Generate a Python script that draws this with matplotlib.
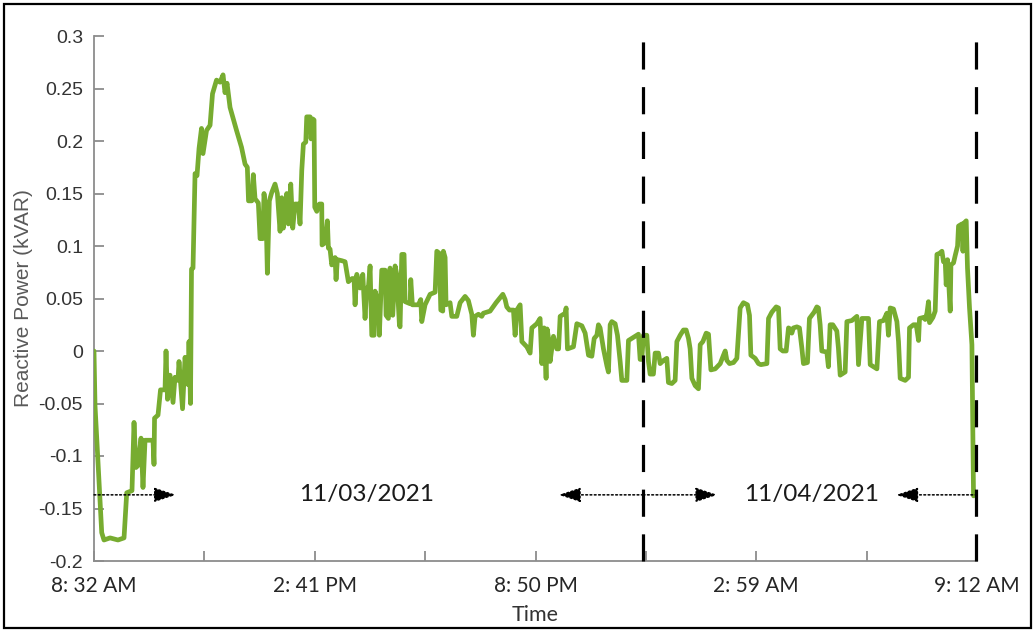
import numpy as np
import matplotlib
matplotlib.use("Agg")
import matplotlib.pyplot as plt
from matplotlib.patches import Rectangle

# Reactive power samples: minutes elapsed since 8:32 AM on 11/03/2021, value in kVAR
minutes = [
    0, 1.7, 12.9, 16.7, 26.8, 40.1, 50.2, 54.7, 63.5, 66.9, 70.2, 73.6, 78.6, 81.9,
    85.3, 98.6, 100.3, 101.2, 107, 111.2, 118.7, 120.4, 122.9, 127.1, 132.1, 135.4,
    140.4, 142.1, 148, 152.2, 157.2, 158.8, 161.3, 163, 165.5, 168.9, 172.2, 175.6,
    179.7, 182.2, 188.1, 194, 198.1, 204.8, 210.7, 215.7, 219, 222.4, 227.4, 238.3,
    246.6, 252.5, 256.3, 258.3, 263.7, 266.3, 269.2, 274.7, 277.6, 282, 284.2, 287.6,
    289.8, 293.1, 297.1, 302.6, 306.5, 311, 313.8, 316.5, 322.2, 324.9, 328.9, 332.2,
    336.1, 341.6, 344.4, 347.3, 350, 354, 355.6, 361.2, 362.8, 365.7, 367.8, 369,
    372.4, 376.7, 380.7, 381.2, 386.2, 390.1, 391.8, 394.6, 397.4, 403, 404.6, 406.8,
    414.2, 419.7, 425.2, 431.4, 434.7, 436.4, 439.3, 444.8, 449.3, 453.1, 456, 458.6,
    461.5, 464.3, 468.2, 469.8, 475.4, 477, 481, 486.6, 488.2, 492.1, 494.9, 499.4,
    503.3, 506.1, 510.5, 511.6, 514.5, 518.3, 520, 528.4, 529.5, 532.2, 542.2, 546.2,
    547.9, 553.4, 561.8, 570.2, 573, 577.3, 579.7, 583, 584, 586.9, 588.5, 595.2,
    598.1, 606.4, 612, 620.3, 625.8, 631.5, 634.2, 637, 642.6, 648.2, 650.9, 662.1,
    672.1, 683.4, 687.2, 690, 694.4, 701.1, 703.9, 706.8, 712.3, 715.2, 723.5, 729,
    731.9, 740.2, 745.7, 748.6, 752.4, 755.7, 757.4, 761.3, 762.4, 768, 773.7, 776.6,
    779.2, 787.5, 789.2, 791.4, 801.4, 807.1, 815.5, 821, 826.6, 832.2, 836.1, 840.6,
    843.2, 846, 851.6, 857.3, 859.9, 862.8, 865.6, 871.1, 875, 879.5, 882.3, 890.7,
    893.4, 899, 904.6, 910.1, 912.9, 915.7, 918.4, 924.1, 926.8, 929.6, 935.1, 938,
    943.5, 946.4, 951.9, 957.5, 960.2, 965.9, 971.4, 974.3, 979.8, 985.3, 989.8,
    993.7, 996.5, 999.4, 1004.9, 1010.4, 1013.3, 1017.8, 1023.3, 1027.2, 1031.2,
    1038.4, 1046.8, 1052.2, 1055.1, 1057.9, 1062.3, 1069, 1074.6, 1080.1, 1085.6,
    1092.3, 1095.7, 1098, 1105.2, 1110.7, 1114.7, 1124.8, 1127.5, 1133.1, 1140.3,
    1144.2, 1147, 1151.5, 1157, 1160.9, 1163.7, 1166.5, 1169.2, 1174.9, 1179.2,
    1183.2, 1185.9, 1192.6, 1195.9, 1203.8, 1208.3, 1210.9, 1213.8, 1216.6, 1225,
    1227.6, 1230.5, 1235, 1241.7, 1244.3, 1247.3, 1255.6, 1258.5, 1266.8, 1275.2,
    1277.9, 1283.6, 1294.6, 1297.5, 1308.7, 1313, 1319.7, 1325.4, 1328, 1330.9,
    1336.4, 1342.1, 1344.8, 1347.6, 1356, 1361.5, 1363.2, 1369.9, 1374.4, 1378.3,
    1379.9, 1386.6, 1389.4, 1392.3, 1394.9, 1396.6, 1402.3, 1406.1, 1409, 1413.3,
    1417.4, 1420, 1422.9, 1424.5, 1426.7, 1431.2, 1432.4, 1436.8, 1439.6, 1443.5,
    1445.1, 1450.8, 1452.5, 1454.6, 1458, 1460.1, 1463.5, 1467.5, 1470.2,
]
kvar = [
    0.000, -0.052, -0.173, -0.180, -0.178, -0.180, -0.178, -0.135, -0.133, -0.068,
    -0.111, -0.109, -0.083, -0.130, -0.085, -0.085, -0.108, -0.064, -0.061, -0.037,
    -0.037, 0.000, -0.046, -0.023, -0.049, -0.025, -0.028, -0.010, -0.055, -0.006,
    -0.032, 0.009, -0.050, 0.078, 0.079, 0.169, 0.167, 0.193, 0.212, 0.188, 0.210,
    0.215, 0.245, 0.258, 0.256, 0.263, 0.246, 0.255, 0.232, 0.210, 0.194, 0.178,
    0.175, 0.143, 0.143, 0.168, 0.145, 0.141, 0.107, 0.107, 0.150, 0.130, 0.074,
    0.143, 0.151, 0.159, 0.150, 0.114, 0.146, 0.117, 0.150, 0.121, 0.159, 0.117,
    0.140, 0.140, 0.121, 0.172, 0.197, 0.199, 0.223, 0.223, 0.202, 0.221, 0.220,
    0.137, 0.133, 0.140, 0.140, 0.101, 0.103, 0.124, 0.098, 0.097, 0.082, 0.089,
    0.068, 0.087, 0.086, 0.085, 0.066, 0.069, 0.069, 0.044, 0.073, 0.060, 0.073,
    0.031, 0.060, 0.060, 0.081, 0.015, 0.015, 0.057, 0.047, 0.015, 0.077, 0.077,
    0.034, 0.031, 0.079, 0.034, 0.081, 0.073, 0.025, 0.023, 0.092, 0.092, 0.047,
    0.045, 0.068, 0.044, 0.044, 0.049, 0.028, 0.044, 0.054, 0.056, 0.095, 0.093,
    0.039, 0.038, 0.095, 0.089, 0.044, 0.046, 0.033, 0.033, 0.046, 0.052, 0.048,
    0.035, 0.015, 0.033, 0.035, 0.033, 0.036, 0.038, 0.046, 0.054, 0.049, 0.042,
    0.039, 0.039, 0.015, 0.039, 0.044, 0.009, 0.004, -0.002, 0.022, 0.026, 0.031,
    -0.012, 0.022, -0.026, 0.021, 0.007, -0.010, 0.014, 0.002, 0.002, 0.033, 0.036,
    0.041, 0.002, 0.004, 0.026, 0.024, 0.017, -0.004, -0.005, 0.012, 0.015, 0.025,
    0.022, 0.002, -0.014, -0.020, 0.025, 0.028, 0.026, 0.015, -0.010, -0.028,
    -0.028, 0.010, 0.012, 0.014, 0.016, -0.008, -0.008, 0.015, 0.015, -0.010,
    -0.022, -0.022, -0.002, -0.002, -0.012, -0.009, -0.007, -0.030, -0.031, -0.028,
    0.009, 0.015, 0.020, 0.020, 0.012, 0.002, -0.026, -0.033, -0.036, 0.006, 0.009,
    0.017, 0.016, -0.018, -0.017, -0.012, -0.004, 0.000, -0.009, -0.012, -0.011,
    -0.007, 0.041, 0.046, 0.044, 0.034, -0.004, -0.007, -0.012, -0.013, -0.012,
    0.031, 0.037, 0.042, 0.041, 0.002, 0.000, 0.000, 0.022, 0.021, 0.017, 0.022,
    0.023, 0.022, 0.003, -0.012, -0.011, 0.031, 0.037, 0.042, 0.041, 0.025, 0.000,
    -0.001, -0.015, 0.025, 0.025, 0.019, 0.003, -0.023, -0.020, 0.028, 0.029, 0.033,
    -0.013, 0.031, 0.031, -0.013, -0.017, 0.028, 0.029, 0.036, 0.015, 0.041, 0.040,
    0.028, 0.009, -0.026, -0.028, -0.025, 0.022, 0.025, 0.025, 0.010, 0.031, 0.032,
    0.030, 0.036, 0.047, 0.027, 0.032, 0.038, 0.092, 0.093, 0.095, 0.085, 0.085,
    0.063, 0.087, 0.038, 0.082, 0.084, 0.091, 0.100, 0.119, 0.121, 0.095, 0.122,
    0.124, 0.079, 0.041, 0.006, -0.138,
]

# Time axis: one tick every 184.5 min, every other tick labelled
tick_minutes = np.linspace(0, 1476, 9)
tick_labels = ["8: 32 AM", "", "2: 41 PM", "", "8: 50 PM", "", "2: 59 AM", "", "9: 12 AM"]

# Day separators and date annotations
day_boundaries = [918, 1475]
date_labels = ["11/03/2021", "11/04/2021"]
date_label_minutes = [455, 1200]
arrow_level = -0.137
arrow_spans = [(0, 137), (918, 777), (918, 1042), (1476, 1341)]

GREEN = "#77AC30"
AXIS_GRAY = "#8c8c8c"

fig = plt.figure(figsize=(10.34, 6.31), dpi=100)
ax = fig.add_axes([94 / 1034, 70 / 631, 883 / 1034, 525 / 631])

ax.plot(minutes, kvar, color=GREEN, lw=3.4, solid_joinstyle="round",
        solid_capstyle="round", zorder=3)

for xb in day_boundaries:
    ax.plot([xb, xb], [-0.2, 0.306], color="black", lw=2.3,
            linestyle=(0, (8.5, 5.5)), clip_on=False, zorder=4)

for start, tip in arrow_spans:
    ax.annotate("", xy=(tip, arrow_level), xytext=(start, arrow_level),
                arrowprops=dict(arrowstyle="-|>,head_length=1.35,head_width=0.45",
                                linestyle=(0, (1.2, 1.6)), lw=1.1, color="black",
                                shrinkA=0, shrinkB=0, mutation_scale=10),
                zorder=5, annotation_clip=False)

for label, xm in zip(date_labels, date_label_minutes):
    ax.text(xm, arrow_level, label, ha="center", va="center",
            fontsize=17.5, family="Lato", color="#1a1a1a")

ax.set_xlim(0, 1476)
ax.set_ylim(-0.2, 0.3)
ax.set_yticks(np.arange(-0.2, 0.301, 0.05))
ax.set_yticklabels(["-0.2", "-0.15", "-0.1", "-0.05", "0", "0.05", "0.1",
                    "0.15", "0.2", "0.25", "0.3"])
ax.set_xticks(tick_minutes)
ax.set_xticklabels(tick_labels)

for side in ("top", "right"):
    ax.spines[side].set_visible(False)
for side in ("left", "bottom"):
    ax.spines[side].set_color(AXIS_GRAY)
    ax.spines[side].set_linewidth(1.3)

ax.tick_params(axis="y", direction="in", length=7, width=1.3, color=AXIS_GRAY,
               labelsize=14, labelcolor="#333333", pad=8)
ax.tick_params(axis="x", direction="in", length=7, width=1.3, color=AXIS_GRAY,
               labelsize=15, labelcolor="#262626", pad=11)
for lab in ax.get_yticklabels():
    lab.set_family("Liberation Sans")
for lab in ax.get_xticklabels():
    lab.set_family("Lato")

ax.set_ylabel("Reactive Power (kVAR)", family="Liberation Sans", fontsize=15,
              color="#595959", labelpad=4)
ax.set_xlabel("Time", family="Lato", fontsize=15.5, color="#333333", labelpad=6)

fig.patches.append(Rectangle((4 / 1034, 3 / 631), 1027 / 1034, 624 / 631,
                             transform=fig.transFigure, fill=False,
                             edgecolor="black", lw=1.6))

fig.savefig("out.png", dpi=100)
